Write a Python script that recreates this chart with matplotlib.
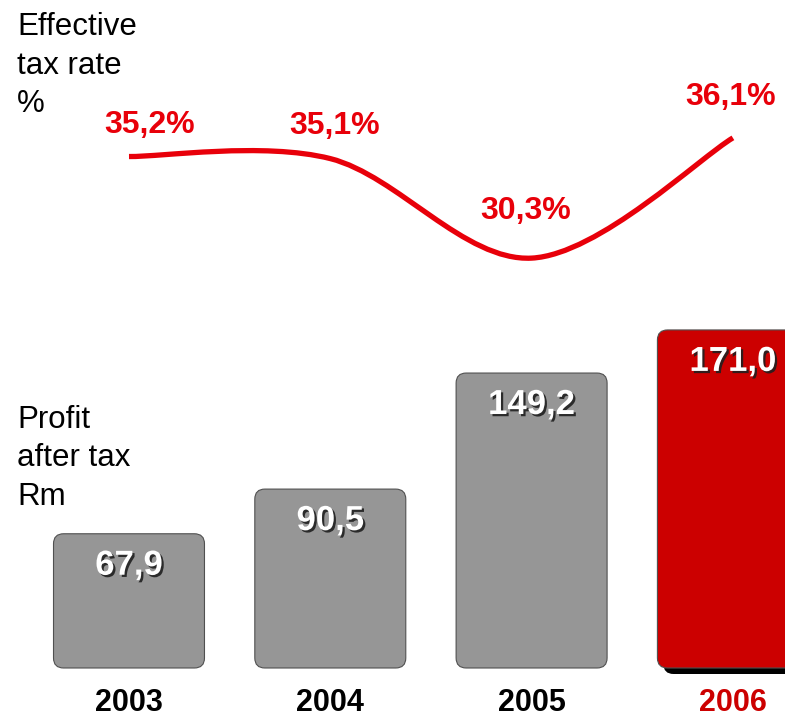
import matplotlib.pyplot as plt
import matplotlib.patheffects as pe
from matplotlib.patches import FancyBboxPatch, PathPatch
from matplotlib.path import Path
from matplotlib.transforms import offset_copy

plt.rcParams['font.family'] = ['Liberation Sans', 'DejaVu Sans']

years = ['2003', '2004', '2005', '2006']
profit_after_tax = [67.9, 90.5, 149.2, 171.0]
tax_rate = [35.2, 35.1, 30.3, 36.1]

profit_labels = ['67,9', '90,5', '149,2', '171,0']
rate_labels = ['35,2%', '35,1%', '30,3%', '36,1%']

GREY = '#969696'
RED_BAR = '#CC0000'
RED_LINE = '#E8000A'

# label offsets above each point of the tax-rate curve, in points
rate_label_offsets = [(15, 17), (3, 18), (-4, 28.5), (-1.5, 24)]

fig = plt.figure(figsize=(7.85, 7.19), dpi=100)
ax = fig.add_axes([0, 0, 1, 1])
ax2 = fig.add_axes([0, 0, 1, 1])
for a in (ax, ax2):
    a.set_xlim(-0.6408, 3.2588)
    a.axis('off')
    a.patch.set_alpha(0)
ax.set_ylim(-25.8, 337.9)
ax2.set_ylim(8.07, 42.75)

x = list(range(len(years)))
bar_colors = [GREY, GREY, GREY, RED_BAR]

# bars via ax.bar, then redrawn with rounded corners
bars = ax.bar(x, profit_after_tax, width=0.75, color=bar_colors)
aspect = 201.3 / 1.977
shadow_tr = offset_copy(ax.transData, fig=fig, x=6, y=-6, units='dots')
for i, rect in enumerate(bars):
    rect.set_visible(False)
    bx, by = rect.get_x(), rect.get_y()
    bw, bh = rect.get_width(), rect.get_height()
    style = 'round,pad=0,rounding_size=0.05'
    if i == len(bars) - 1:
        shadow = FancyBboxPatch((bx, by), bw, bh, boxstyle=style,
                                mutation_aspect=aspect, facecolor='black',
                                edgecolor='none', transform=shadow_tr, zorder=1)
        ax.add_patch(shadow)
    box = FancyBboxPatch((bx, by), bw, bh, boxstyle=style,
                         mutation_aspect=aspect, facecolor=bar_colors[i],
                         edgecolor='#505050', linewidth=0.8, zorder=2)
    ax.add_patch(box)

    ax.annotate(profit_labels[i], xy=(rect.get_x() + bw / 2, bh),
                xytext=(0, -29.5), textcoords='offset points',
                ha='center', va='baseline', fontsize=25, fontweight='bold',
                color='white', zorder=3,
                path_effects=[pe.SimplePatchShadow(offset=(1.6, -1.6),
                                                   shadow_rgbFace='#202020',
                                                   alpha=0.9),
                              pe.Normal()])

    ax.annotate(years[i], xy=(rect.get_x() + bw / 2, 0),
                xytext=(0, -31), textcoords='offset points',
                ha='center', va='baseline', fontsize=22, fontweight='bold',
                color=RED_BAR if i == len(bars) - 1 else 'black')

# smooth tax-rate curve: cubic Bezier segments through the points
pts = list(zip(x, tax_rate))
verts = [pts[0]]
codes = [Path.MOVETO]
for i in range(len(pts) - 1):
    p_prev = pts[max(i - 1, 0)]
    p0 = pts[i]
    p1 = pts[i + 1]
    p_next = pts[min(i + 2, len(pts) - 1)]
    c1 = (p0[0] + (p1[0] - p_prev[0]) / 6, p0[1] + (p1[1] - p_prev[1]) / 6)
    c2 = (p1[0] - (p_next[0] - p0[0]) / 6, p1[1] - (p_next[1] - p0[1]) / 6)
    verts += [c1, c2, p1]
    codes += [Path.CURVE4] * 3
curve = PathPatch(Path(verts, codes), fill=False, edgecolor=RED_LINE,
                  linewidth=3.8, capstyle='butt')
ax2.add_patch(curve)

for i, (xi, v) in enumerate(pts):
    ax2.annotate(rate_labels[i], xy=(xi, v), xytext=rate_label_offsets[i],
                 textcoords='offset points', ha='center', va='baseline',
                 fontsize=23, fontweight='bold', color=RED_LINE)

# axis captions on the left
for text, y in [('Effective', 35), ('tax rate', 73.5), ('%', 112),
                ('Profit', 428), ('after tax', 466.5), ('Rm', 505)]:
    fig.text(17 / 785, 1 - y / 719, text, fontsize=22.5, color='black',
             ha='left', va='baseline')

fig.savefig('out.png', dpi=100)
